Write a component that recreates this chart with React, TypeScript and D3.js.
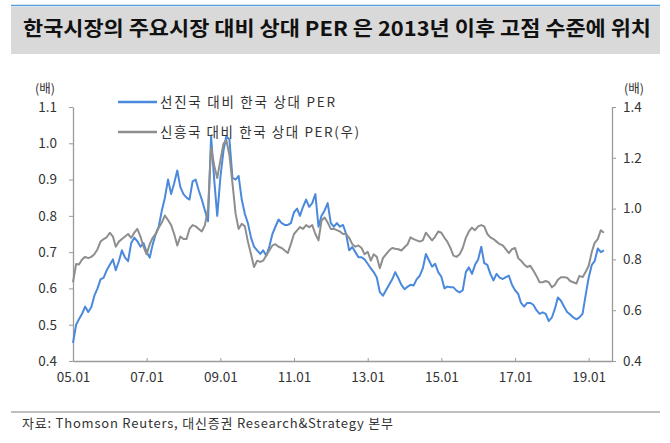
import React, { useEffect, useRef } from "react";
import * as d3 from "d3";

// monthly readings, Jan 2005 .. Jun 2019
const START_YEAR = 2005;

// 선진국 대비 한국 상대 PER (left axis)
const devRelPer = [
  0.45, 0.5, 0.515, 0.53, 0.55, 0.535, 0.548, 0.58, 0.6, 0.625, 0.63, 0.65,
  0.665, 0.68, 0.65, 0.675, 0.705, 0.685, 0.675, 0.725, 0.74, 0.73, 0.715, 0.725,
  0.7, 0.685, 0.72, 0.75, 0.77, 0.815, 0.85, 0.9, 0.86, 0.89, 0.925, 0.88,
  0.86, 0.85, 0.845, 0.895, 0.9, 0.87, 0.845, 0.815, 0.785, 1.02, 0.9, 0.8,
  0.905, 0.98, 1.02, 1.01, 0.905, 0.9, 0.91, 0.845, 0.805, 0.78, 0.74, 0.715,
  0.705, 0.695, 0.705, 0.69, 0.715, 0.75, 0.77, 0.79, 0.78, 0.775, 0.775, 0.78,
  0.81, 0.82, 0.8, 0.825, 0.845, 0.825, 0.835, 0.86, 0.77, 0.8, 0.815, 0.835,
  0.78, 0.77, 0.78, 0.77, 0.775, 0.75, 0.705, 0.714, 0.7, 0.686, 0.686, 0.68,
  0.668, 0.655, 0.645, 0.63, 0.59, 0.58, 0.595, 0.61, 0.625, 0.645, 0.628, 0.61,
  0.598, 0.605, 0.61, 0.608, 0.625, 0.635, 0.655, 0.695, 0.677, 0.66, 0.668, 0.645,
  0.632, 0.6, 0.605, 0.603, 0.603, 0.594, 0.589, 0.595, 0.645, 0.658, 0.64, 0.665,
  0.68, 0.715, 0.67, 0.665, 0.64, 0.622, 0.64, 0.63, 0.626, 0.631, 0.635, 0.61,
  0.595, 0.585, 0.56, 0.55, 0.56, 0.56, 0.555, 0.54, 0.53, 0.534, 0.53, 0.51,
  0.52, 0.545, 0.575, 0.566, 0.55, 0.535, 0.528, 0.52, 0.515, 0.52, 0.53, 0.58,
  0.63, 0.665, 0.675, 0.71, 0.7, 0.705,
];

// 신흥국 대비 한국 상대 PER (right axis)
const emRelPer = [
  0.71, 0.782, 0.78, 0.8, 0.81, 0.805, 0.81, 0.82, 0.84, 0.87, 0.88, 0.887,
  0.905, 0.89, 0.85, 0.87, 0.88, 0.89, 0.9, 0.885, 0.905, 0.92, 0.89, 0.85,
  0.82, 0.86, 0.885, 0.9, 0.925, 0.945, 0.973, 0.955, 0.935, 0.9, 0.855, 0.89,
  0.88, 0.88, 0.92, 0.935, 0.93, 0.92, 0.91, 0.935, 1.0, 1.24, 1.17, 1.12,
  1.19, 1.256, 1.27, 1.21, 1.1, 0.98, 0.92, 0.94, 0.93, 0.87, 0.82, 0.77,
  0.795, 0.79, 0.795, 0.815, 0.835, 0.855, 0.86, 0.85, 0.845, 0.835, 0.825, 0.86,
  0.9, 0.914, 0.927, 0.92, 0.935, 0.927, 0.935, 0.9, 0.875, 0.953, 0.965, 0.945,
  0.92, 0.92, 0.915, 0.91, 0.9, 0.9, 0.885, 0.86, 0.85, 0.855, 0.845, 0.82,
  0.83, 0.795, 0.82, 0.81, 0.765, 0.805, 0.82, 0.835, 0.845, 0.842, 0.84, 0.835,
  0.848, 0.86, 0.887, 0.88, 0.875, 0.87, 0.875, 0.905, 0.89, 0.875, 0.89, 0.91,
  0.905, 0.885, 0.87, 0.845, 0.815, 0.81, 0.82, 0.845, 0.885, 0.91, 0.925, 0.915,
  0.93, 0.935, 0.93, 0.9, 0.887, 0.88, 0.87, 0.86, 0.855, 0.84, 0.825, 0.84,
  0.845, 0.805, 0.795, 0.78, 0.77, 0.775, 0.756, 0.735, 0.71, 0.71, 0.715, 0.71,
  0.69, 0.7, 0.72, 0.73, 0.73, 0.728, 0.715, 0.71, 0.705, 0.735, 0.73, 0.75,
  0.775, 0.83, 0.865, 0.88, 0.915, 0.905,
];

const xTickYears = [2005, 2007, 2009, 2011, 2013, 2015, 2017, 2019];
const leftTicks = [0.4, 0.5, 0.6, 0.7, 0.8, 0.9, 1.0, 1.1];
const rightTicks = [0.4, 0.6, 0.8, 1.0, 1.2, 1.4];

const seriesNames = ["선진국 대비 한국 상대 PER", "신흥국 대비 한국 상대 PER(우)"];
const seriesColors = ["#4a89dc", "#8e8e8e"];

const title = "한국시장의 주요시장 대비 상대 PER 은 2013년 이후 고점 수준에 위치";
const source = "자료: Thomson Reuters, 대신증권 Research&Strategy 본부";

const FONT = "'Noto Sans CJK KR', 'Noto Sans', sans-serif";

const App = () => {
  const svgRef = useRef<SVGSVGElement>(null);

  useEffect(() => {
    const svg = d3.select(svgRef.current);
    svg.selectAll("*").remove();

    // plot box
    const left = 73;
    const right = 612;
    const top = 107;
    const bottom = 361;

    const dates = devRelPer.map((_, i) => new Date(START_YEAR, i, 1));

    const x = d3
      .scaleTime()
      .domain([new Date(2005, 0, 1), new Date(2019, 7, 20)])
      .range([left, right]);
    const yL = d3.scaleLinear().domain([0.4, 1.1]).range([bottom, top]);
    const yR = d3.scaleLinear().domain([0.4, 1.4]).range([bottom, top]);

    // title band
    svg.append("rect").attr("x", 11).attr("y", 7).attr("width", 649).attr("height", 47).attr("fill", "#d9d9d9");
    svg.append("line").attr("x1", 11).attr("x2", 660).attr("y1", 5.5).attr("y2", 5.5).attr("stroke", "#5b9bd5").attr("stroke-width", 1.5);
    svg
      .append("text")
      .attr("x", 23)
      .attr("y", 36)
      .attr("font-family", FONT)
      .attr("font-weight", "bold")
      .attr("font-size", 20)
      .attr("fill", "#111")
      .attr("textLength", 628)
      .attr("lengthAdjust", "spacingAndGlyphs")
      .text(title);

    const styleAxis = (g) => {
      g.select(".domain").attr("stroke", "#9a9a9a").attr("stroke-width", 1.3);
      g.selectAll(".tick line").attr("stroke", "#9a9a9a");
      g.selectAll(".tick text").attr("fill", "#333").attr("font-size", 13.5).attr("font-family", FONT);
    };

    // x axis
    svg
      .append("g")
      .attr("transform", `translate(0,${bottom})`)
      .call(
        d3
          .axisBottom(x)
          .tickValues(xTickYears.map((yr) => new Date(yr, 0, 1)))
          .tickFormat(d3.timeFormat("%y.%m"))
          .tickSizeInner(-3)
          .tickSizeOuter(0)
          .tickPadding(11)
      )
      .call(styleAxis);

    // left axis
    svg
      .append("g")
      .attr("transform", `translate(${left},0)`)
      .call(d3.axisLeft(yL).tickValues(leftTicks).tickFormat(d3.format(".1f")).tickSizeInner(4).tickSizeOuter(0).tickPadding(12))
      .call(styleAxis);

    // right axis
    svg
      .append("g")
      .attr("transform", `translate(${right},0)`)
      .call(d3.axisRight(yR).tickValues(rightTicks).tickFormat(d3.format(".1f")).tickSizeInner(4).tickSizeOuter(0).tickPadding(7))
      .call(styleAxis);

    // unit labels
    svg.append("text").attr("x", 45).attr("y", 93).attr("text-anchor", "middle").attr("font-family", FONT).attr("font-size", 12.5).attr("fill", "#333").text("(배)");
    svg.append("text").attr("x", 634).attr("y", 93).attr("text-anchor", "middle").attr("font-family", FONT).attr("font-size", 12.5).attr("fill", "#333").text("(배)");

    // lines
    const lineL = d3.line<number>().x((_, i) => x(dates[i])).y((d) => yL(d));
    const lineR = d3.line<number>().x((_, i) => x(dates[i])).y((d) => yR(d));

    svg.append("path").datum(devRelPer).attr("d", lineL).attr("fill", "none").attr("stroke", seriesColors[0]).attr("stroke-width", 2).attr("stroke-linejoin", "round");
    svg.append("path").datum(emRelPer).attr("d", lineR).attr("fill", "none").attr("stroke", seriesColors[1]).attr("stroke-width", 2).attr("stroke-linejoin", "round");

    // legend
    const legend = svg.append("g");
    seriesNames.forEach((name, i) => {
      const ly = 102 + i * 30;
      legend.append("line").attr("x1", 118).attr("x2", 157).attr("y1", ly).attr("y2", ly).attr("stroke", seriesColors[i]).attr("stroke-width", 2.5);
      legend
        .append("text")
        .attr("x", 160)
        .attr("y", ly + 5)
        .attr("font-family", FONT)
        .attr("font-size", 13.5)
        .attr("fill", "#333")
        .attr("textLength", i === 0 ? 175 : 199)
        .text(name);
    });

    // footer
    svg.append("line").attr("x1", 11).attr("x2", 660).attr("y1", 412).attr("y2", 412).attr("stroke", "#7f7f7f").attr("stroke-width", 1);
    svg
      .append("text")
      .attr("x", 22)
      .attr("y", 428)
      .attr("font-family", FONT)
      .attr("font-size", 13)
      .attr("fill", "#333")
      .attr("textLength", 371)
      .text(source);
  }, []);

  return (
    <div style={{ position: "absolute", left: 0, top: 0, width: 670, height: 443, background: "#fff" }}>
      <svg ref={svgRef} width={670} height={443}></svg>
    </div>
  );
};

export default App;
